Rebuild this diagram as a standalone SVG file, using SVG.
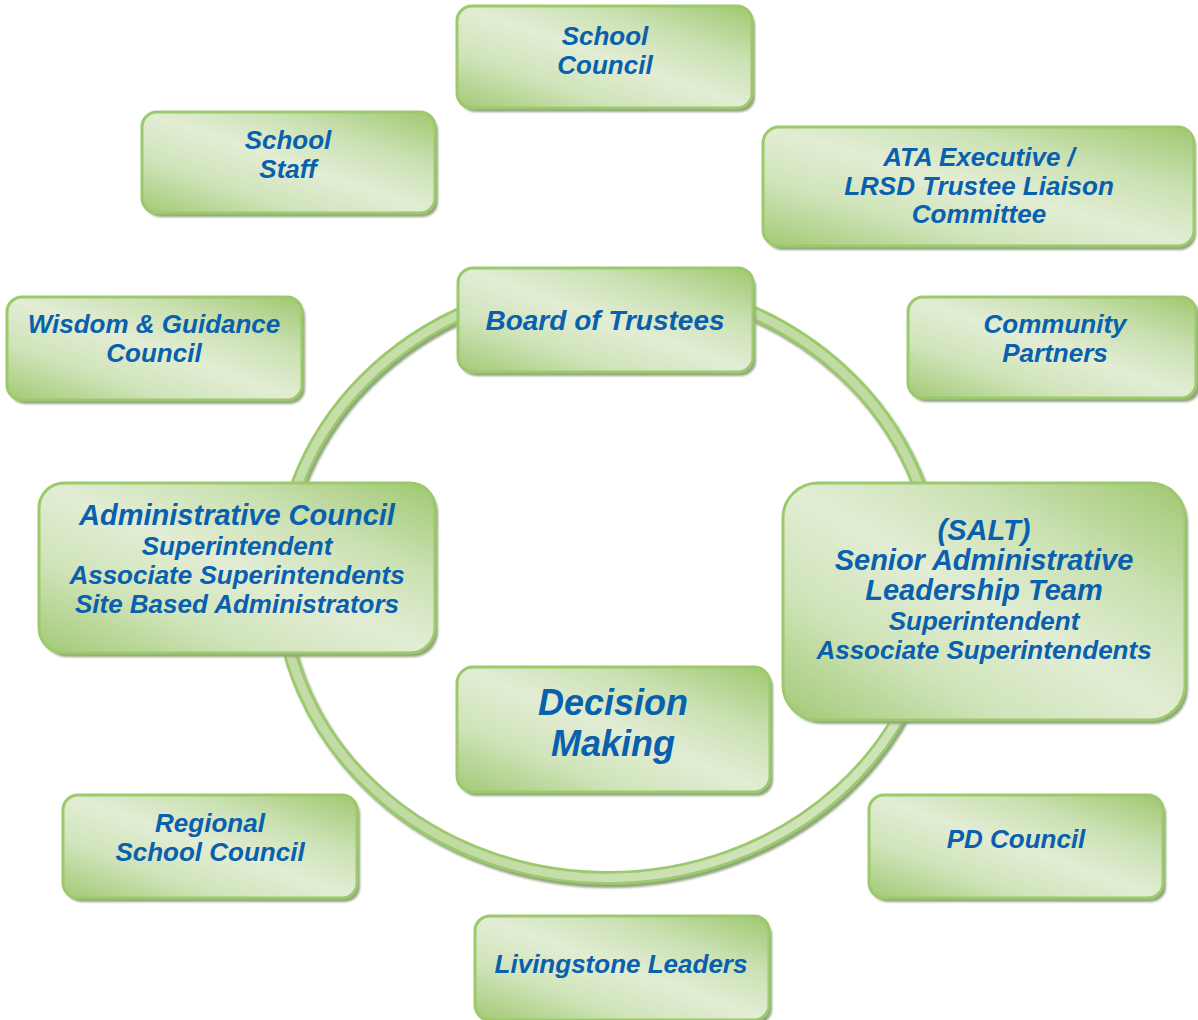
<svg xmlns="http://www.w3.org/2000/svg" width="1198" height="1020" viewBox="0 0 1198 1020">
  <defs>
    <linearGradient id="boxFill" x1="1" y1="0" x2="0" y2="1">
      <stop offset="0" stop-color="#9fc870"/>
      <stop offset="0.28" stop-color="#cbe1b3"/>
      <stop offset="0.5" stop-color="#e2edd4"/>
      <stop offset="0.72" stop-color="#d0e4ba"/>
      <stop offset="1" stop-color="#a2c975"/>
    </linearGradient>
    <linearGradient id="ringFill" x1="0" y1="0" x2="1" y2="1">
      <stop offset="0" stop-color="#c8e0ad"/>
      <stop offset="0.6" stop-color="#c0daa2"/>
      <stop offset="1" stop-color="#d8e9c6"/>
    </linearGradient>
    <filter id="soft" x="-5%" y="-5%" width="110%" height="110%">
      <feGaussianBlur stdDeviation="1"/>
    </filter>
  </defs>
  <style>
    .box { fill: url(#boxFill); stroke: #9cc96c; stroke-width: 3; }
    .shadow { fill: #8fa57c; filter: url(#soft); }
    .t { font-family: "Liberation Sans", Arial, sans-serif; font-weight: bold; font-style: italic; fill: #0860ae; text-anchor: middle; font-size: 26px; }
    .t29 { font-size: 29px; }
    .t28 { font-size: 28px; }
    .t36 { font-size: 36px; }
  </style>
  <rect width="1198" height="1020" fill="#ffffff"/>

  <g id="connectors">
    <ellipse cx="610" cy="583" rx="328" ry="298" fill="none" stroke="#8fa57c" stroke-width="14" filter="url(#soft)"/>
    <ellipse cx="608" cy="580" rx="328" ry="298" fill="none" stroke="#9cc96c" stroke-width="14"/>
    <ellipse cx="608" cy="580" rx="328" ry="298" fill="none" stroke="url(#ringFill)" stroke-width="8.5"/>
  </g>

  <g id="school-council">
    <rect class="shadow" x="460" y="10" width="295" height="102" rx="15"/>
    <rect class="box" x="457" y="6" width="295" height="102" rx="15"/>
    <text class="t" x="605" y="45">School</text>
    <text class="t" x="605" y="74">Council</text>
  </g>

  <g id="school-staff">
    <rect class="shadow" x="145" y="116" width="293" height="101" rx="15"/>
    <rect class="box" x="142" y="112" width="293" height="101" rx="15"/>
    <text class="t" x="288" y="149">School</text>
    <text class="t" x="288" y="178">Staff</text>
  </g>

  <g id="ata-executive">
    <rect class="shadow" x="766" y="131" width="430" height="119" rx="16"/>
    <rect class="box" x="763" y="127" width="431" height="119" rx="16"/>
    <text class="t" x="979" y="166">ATA Executive /</text>
    <text class="t" x="979" y="195">LRSD Trustee Liaison</text>
    <text class="t" x="979" y="223">Committee</text>
  </g>

  <g id="wisdom-guidance">
    <rect class="shadow" x="10" y="301" width="295" height="103" rx="15"/>
    <rect class="box" x="7" y="297" width="295" height="103" rx="15"/>
    <text class="t" x="154" y="333">Wisdom &amp; Guidance</text>
    <text class="t" x="154" y="362">Council</text>
  </g>

  <g id="board-of-trustees">
    <rect class="shadow" x="461" y="272" width="295" height="104" rx="15"/>
    <rect class="box" x="458" y="268" width="295" height="104" rx="15"/>
    <text class="t t28" x="605" y="330">Board of Trustees</text>
  </g>

  <g id="community-partners">
    <rect class="shadow" x="911" y="301" width="289" height="101" rx="15"/>
    <rect class="box" x="908" y="297" width="288" height="101" rx="15"/>
    <text class="t" x="1055" y="333">Community</text>
    <text class="t" x="1055" y="362">Partners</text>
  </g>

  <g id="administrative-council">
    <rect class="shadow" x="42" y="487" width="396" height="170" rx="25"/>
    <rect class="box" x="39" y="483" width="396" height="170" rx="25"/>
    <text class="t t29" x="237" y="525">Administrative Council</text>
    <text class="t" x="237" y="555">Superintendent</text>
    <text class="t" x="237" y="584">Associate Superintendents</text>
    <text class="t" x="237" y="613">Site Based Administrators</text>
  </g>

  <g id="salt">
    <rect class="shadow" x="786" y="487" width="402" height="237" rx="35"/>
    <rect class="box" x="783" y="483" width="402" height="237" rx="35"/>
    <text class="t t29" x="984" y="540">(SALT)</text>
    <text class="t t29" x="984" y="570">Senior Administrative</text>
    <text class="t t29" x="984" y="600">Leadership Team</text>
    <text class="t" x="984" y="630">Superintendent</text>
    <text class="t" x="984" y="659">Associate Superintendents</text>
  </g>

  <g id="decision-making">
    <rect class="shadow" x="460" y="671" width="313" height="125" rx="16"/>
    <rect class="box" x="457" y="667" width="313" height="125" rx="16"/>
    <text class="t t36" x="613" y="715">Decision</text>
    <text class="t t36" x="613" y="756">Making</text>
  </g>

  <g id="regional-school-council">
    <rect class="shadow" x="66" y="799" width="294" height="103" rx="15"/>
    <rect class="box" x="63" y="795" width="294" height="103" rx="15"/>
    <text class="t" x="210" y="832">Regional</text>
    <text class="t" x="210" y="861">School Council</text>
  </g>

  <g id="pd-council">
    <rect class="shadow" x="872" y="799" width="294" height="103" rx="15"/>
    <rect class="box" x="869" y="795" width="294" height="103" rx="15"/>
    <text class="t" x="1016" y="848">PD Council</text>
  </g>

  <g id="livingstone-leaders">
    <rect class="shadow" x="478" y="920" width="294" height="104" rx="15"/>
    <rect class="box" x="475" y="916" width="294" height="104" rx="15"/>
    <text class="t" x="621" y="973">Livingstone Leaders</text>
  </g>
</svg>
